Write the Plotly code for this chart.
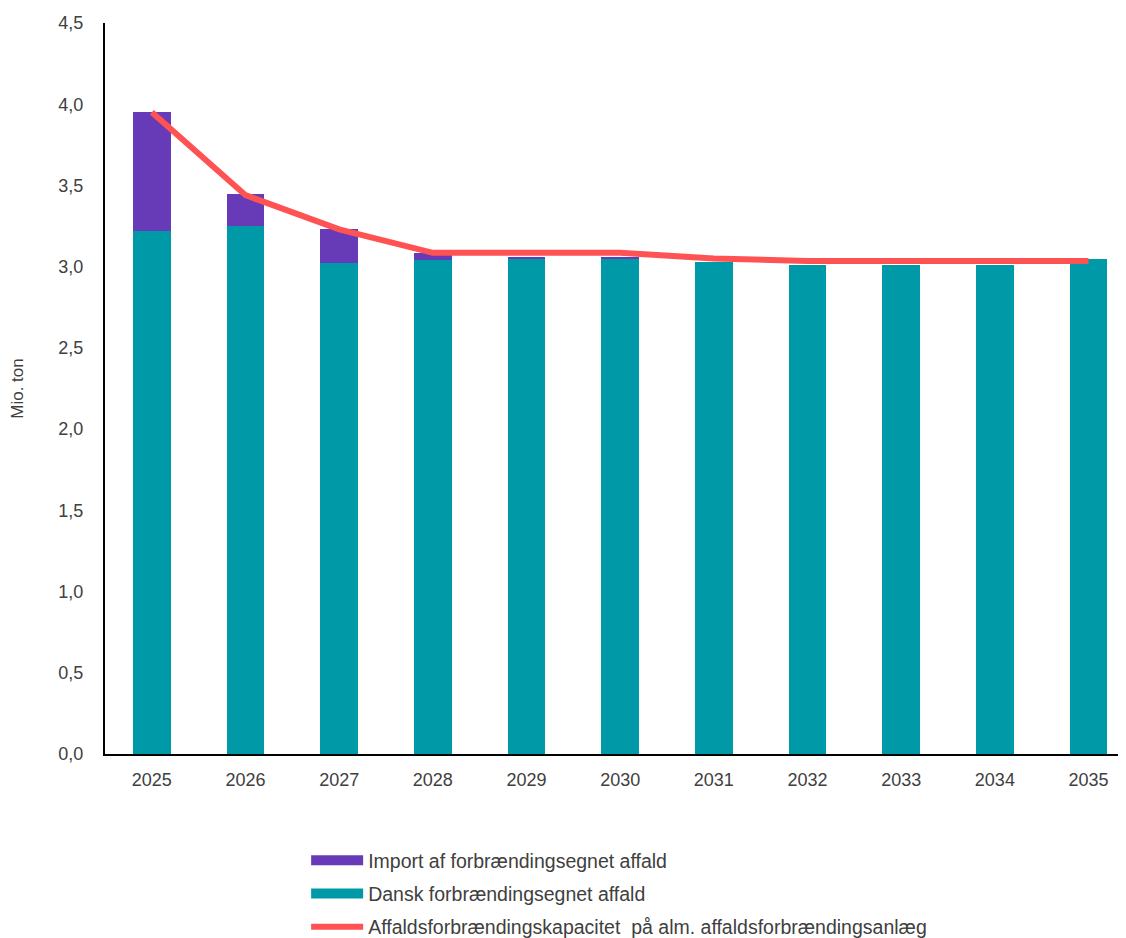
import plotly.graph_objects as go

years = ["2025", "2026", "2027", "2028", "2029", "2030", "2031", "2032", "2033", "2034", "2035"]
dansk = [3.22, 3.25, 3.02, 3.04, 3.045, 3.045, 3.03, 3.01, 3.01, 3.01, 3.05]
importv = [0.73, 0.20, 0.21, 0.045, 0.015, 0.015, 0.0, 0.0, 0.0, 0.0, 0.0]
kapacitet = [3.95, 3.44, 3.23, 3.085, 3.085, 3.085, 3.05, 3.035, 3.035, 3.035, 3.035]

yticks = [0, 0.5, 1.0, 1.5, 2.0, 2.5, 3.0, 3.5, 4.0, 4.5]

teal = "#0099A8"
purple = "#673AB7"
red = "#FF5252"
name_imp = "Import af forbrændingsegnet affald"
name_dk = "Dansk forbrændingsegnet affald"
name_kap = "Affaldsforbrændingskapacitet  på alm. affaldsforbrændingsanlæg"

fig = go.Figure()
fig.add_trace(go.Bar(x=years, y=dansk, name=name_dk,
                     marker=dict(color=teal, line=dict(width=0)), width=0.4,
                     showlegend=False))
fig.add_trace(go.Bar(x=years, y=importv, name=name_imp,
                     marker=dict(color=purple, line=dict(width=0)), width=0.4,
                     showlegend=False))
fig.add_trace(go.Scatter(x=years, y=kapacitet, mode="lines", name=name_kap,
                         line=dict(color=red, width=6), showlegend=False))

# legend proxies (no data)
fig.add_trace(go.Scatter(x=[None], y=[None], mode="lines", name=name_imp,
                         line=dict(color=purple, width=13), legendrank=1, legendgroup="a"))
fig.add_trace(go.Scatter(x=[None], y=[None], mode="lines", name=name_dk,
                         line=dict(color=teal, width=13), legendrank=2, legendgroup="b"))
fig.add_trace(go.Scatter(x=[None], y=[None], mode="lines", name=name_kap,
                         line=dict(color=red, width=6), legendrank=3, legendgroup="c"))

fig.update_layout(
    width=1118, height=930,
    barmode="stack",
    separators=",.",
    plot_bgcolor="white", paper_bgcolor="white",
    margin=dict(l=97, r=0, t=15, b=184, autoexpand=False),
    font=dict(family="Liberation Sans, Arial, sans-serif", size=18, color="#404040"),
    xaxis=dict(type="category", range=[-0.5, 10.4], showline=True, linecolor="black",
               linewidth=2, ticks="", showgrid=False, automargin=False,
               ticklabelstandoff=8,
               tickfont=dict(size=18, color="#404040")),
    yaxis=dict(range=[0, 4.5], tickvals=yticks, tickformat=".1f", showline=True,
               linecolor="black", linewidth=2, showgrid=False, ticks="",
               zeroline=False, ticklabelstandoff=16, automargin=False,
               title=dict(text="Mio. ton", standoff=32, font=dict(size=17, color="#404040")),
               tickfont=dict(size=18, color="#404040")),
    legend=dict(orientation="v", x=0.197, xanchor="left", y=-0.119, yanchor="top",
                traceorder="grouped", tracegroupgap=5,
                font=dict(size=19.5, color="#404040"), itemwidth=52),
    showlegend=True,
)

fig.write_html("out.html")
